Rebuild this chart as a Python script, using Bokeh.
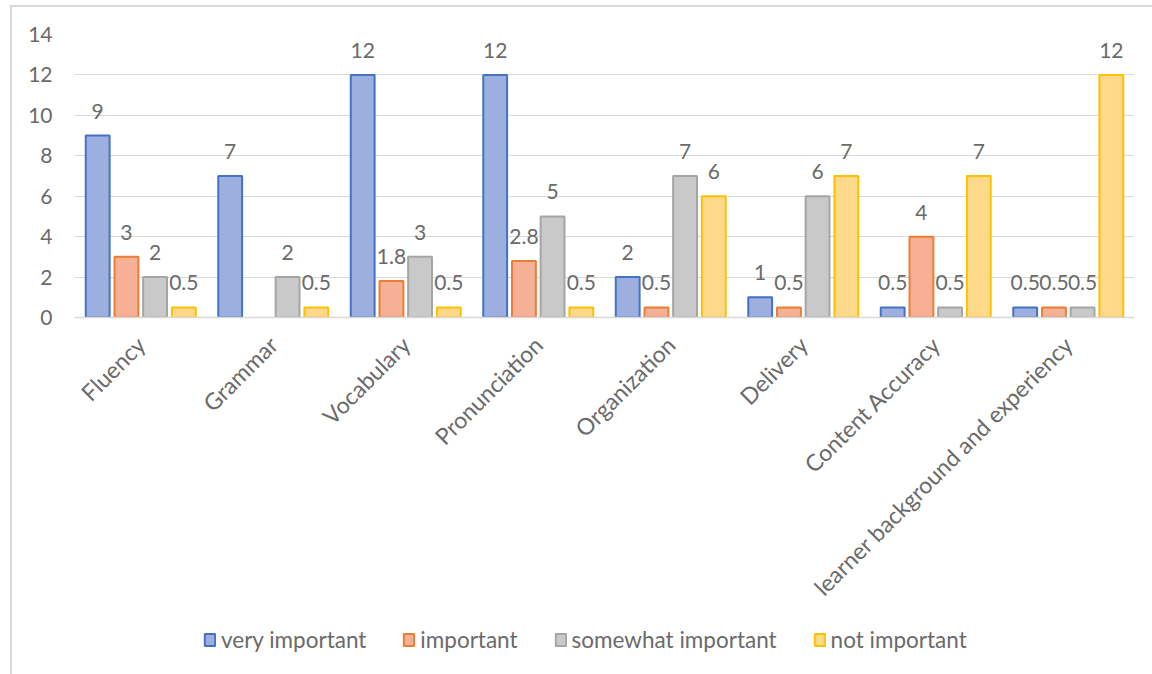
import math
from bokeh.plotting import figure
from bokeh.layouts import column
from bokeh.models import (ColumnDataSource, FactorRange, LabelSet, Legend,
                          LegendItem, FixedTicker, Range1d)
from bokeh.transform import dodge
from bokeh.core.properties import value
from bokeh.embed import file_html
from bokeh.resources import INLINE

categories = ["Fluency", "Grammar", "Vocabulary", "Pronunciation",
              "Organization", "Delivery", "Content Accuracy",
              "learner background and experiency"]
series_names = ["very important", "important", "somewhat important", "not important"]
very_important = [9, 7, 12, 12, 2, 1, 0.5, 0.5]
important = [3, None, 1.8, 2.8, 0.5, 0.5, 4, 0.5]
somewhat_important = [2, 2, 3, 5, 7, 6, 0.5, 0.5]
not_important = [0.5, 0.5, 0.5, 0.5, 6, 7, 7, 12]
y_ticks = [0, 2, 4, 6, 8, 10, 12, 14]

series_values = [very_important, important, somewhat_important, not_important]
fill_colors = ["#9cafdf", "#f5b096", "#c9c9c9", "#ffd98a"]
line_colors = ["#4472c4", "#ed7d31", "#a5a5a5", "#ffc000"]
offsets = [-0.325, -0.108, 0.108, 0.325]
bar_w = 0.18

FONT = "Lato"
TXT = "#6a6a6a"
BORDER = "2px solid #d9d9d9"

p = figure(x_range=FactorRange(factors=categories, range_padding=0),
           y_range=(0, 14), frame_width=1058, frame_height=281,
           output_backend="svg", toolbar_location=None,
           min_border_left=62, min_border_right=20, min_border_top=27,
           min_border_bottom=0)
p.outline_line_color = None
p.background_fill_color = "white"
p.border_fill_color = "white"
p.styles = {"margin-left": "10px", "margin-top": "5px",
            "border-left": BORDER, "border-top": BORDER}

# separate strip holding the legend (frame aligned with the chart above)
lg = figure(frame_width=1058, frame_height=64, output_backend="svg",
            toolbar_location=None, x_axis_type=None, y_axis_type=None,
            x_range=Range1d(0, 1), y_range=Range1d(0, 1),
            min_border_left=62, min_border_right=20, min_border_top=0,
            min_border_bottom=0)
lg.outline_line_color = None
lg.grid.visible = False
lg.styles = {"margin-left": "10px", "border-left": BORDER}

def fmt(v):
    return str(int(v)) if float(v).is_integer() else str(v)

items = []
for name, vals, fc, lc, off in zip(series_names, series_values, fill_colors, line_colors, offsets):
    cats = [c for c, v in zip(categories, vals) if v is not None]
    vs = [v for v in vals if v is not None]
    src = ColumnDataSource(dict(cat=cats, val=vs, lbl=[fmt(v) for v in vs]))
    p.vbar(x=dodge("cat", off, range=p.x_range), top="val", width=bar_w,
           source=src, fill_color=fc, line_color=lc, line_width=2)
    labels = LabelSet(x=dodge("cat", off, range=p.x_range), y="val", text="lbl",
                      source=src, text_align="center", text_baseline="alphabetic",
                      y_offset=17, text_font=value(FONT), text_font_size="21px",
                      text_color=TXT)
    p.add_layout(labels)
    # legend proxy: placed outside the strip's visible range, only its style is used
    proxy = lg.vbar(x=[-5], top=[-5], bottom=[-6], width=0.1,
                    fill_color=fc, line_color=lc, line_width=2)
    items.append(LegendItem(label=name, renderers=[proxy]))

p.yaxis.ticker = FixedTicker(ticks=y_ticks)
p.ygrid.grid_line_color = "#d9d9d9"
p.ygrid.grid_line_width = 1
p.xgrid.grid_line_color = None
p.yaxis.axis_line_color = None
p.yaxis.major_tick_line_color = None
p.yaxis.minor_tick_line_color = None
p.yaxis.major_tick_out = 0
p.yaxis.major_label_standoff = 22
p.yaxis.major_label_text_font = FONT
p.yaxis.major_label_text_font_size = "21px"
p.yaxis.major_label_text_color = TXT

p.xaxis.axis_line_color = "#d9d9d9"
p.xaxis.axis_line_width = 1.5
p.xaxis.major_tick_line_color = None
p.xaxis.major_tick_out = 0
p.xaxis.major_label_orientation = math.pi / 4
p.xaxis.major_label_standoff = 23
p.xaxis.major_label_text_font = FONT
p.xaxis.major_label_text_font_size = "23px"
p.xaxis.major_label_text_color = TXT

legend = Legend(items=items, orientation="horizontal", location=(129, 22),
                glyph_width=13, glyph_height=15, spacing=36, label_standoff=5,
                label_text_font=FONT, label_text_font_size="22.5px",
                label_text_color=TXT, border_line_color=None,
                background_fill_alpha=0, margin=0, padding=0)
lg.add_layout(legend, "center")

open("out.html", "w").write(file_html(column(p, lg), INLINE))
